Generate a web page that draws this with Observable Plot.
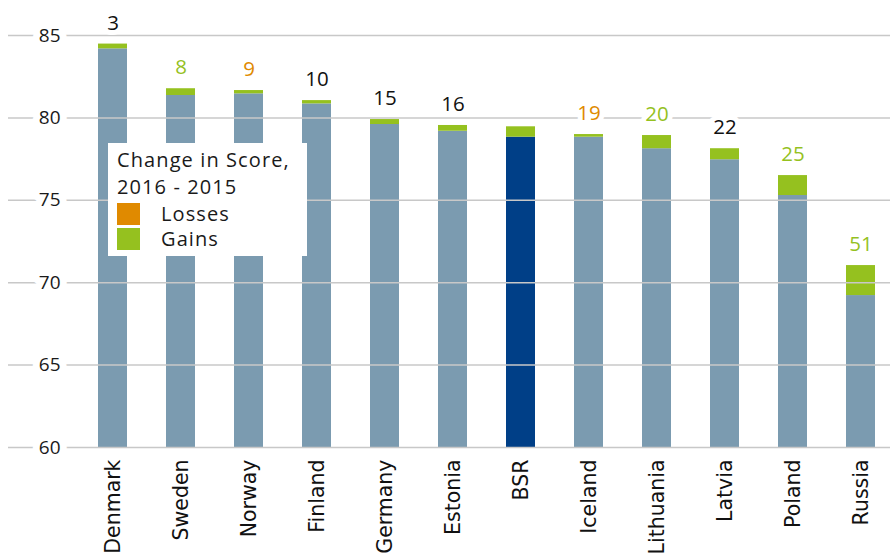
<!DOCTYPE html>
<html>
<head>
<meta charset="utf-8">
<script src="https://cdn.jsdelivr.net/npm/d3@7"></script>
<script src="https://cdn.jsdelivr.net/npm/@observablehq/plot@0.6"></script>
<style>
  html, body { margin: 0; padding: 0; background: #fff; }
  #wrap { position: relative; width: 890px; height: 555px; overflow: hidden; }
  #legend {
    position: absolute; left: 108px; top: 143px; width: 199px; height: 113px;
    background: #fff; font-family: "Open Sans", sans-serif; font-size: 20px; color: #1a1a1a;
    letter-spacing: 1.1px;
    box-sizing: border-box; padding: 3px 0 0 9px; line-height: 28px;
  }
  .row { display: flex; align-items: center; height: 25px; line-height: 25px; }
  .sw { width: 23px; height: 22px; margin-right: 21px; }
</style>
</head>
<body>
<div id="wrap">
  <div id="chart"></div>
  <div id="legend">
    <div>Change in Score,</div>
    <div style="margin-top:-1px">2016 - 2015</div>
    <div class="row"><div class="sw" style="background:#e08a00"></div>Losses</div>
    <div class="row"><div class="sw" style="background:#95c11f"></div>Gains</div>
  </div>
</div>
<script>
const countries = ["Denmark","Sweden","Norway","Finland","Germany","Estonia","BSR","Iceland","Lithuania","Latvia","Poland","Russia"];
const baseScore = [84.19, 81.36, 81.46, 80.85, 79.60, 79.19, 78.83, 78.83, 78.13, 77.46, 75.29, 69.22];
const totalScore = [84.48, 81.77, 81.66, 81.05, 79.90, 79.54, 79.46, 78.99, 78.93, 78.13, 76.50, 71.04];
const rankLabels = ["3","8","9","10","15","16","","19","20","22","25","51"];
const rankColors = ["#111111","#95c11f","#e08a00","#111111","#111111","#111111","#111111","#e08a00","#95c11f","#111111","#95c11f","#95c11f"];
const yTicks = [60, 65, 70, 75, 80, 85];

const data = countries.map((c, i) => ({
  country: c, base: baseScore[i], total: totalScore[i],
  label: rankLabels[i], color: rankColors[i]
}));

const chart = Plot.plot({
  width: 890,
  height: 555,
  marginTop: 35,
  marginBottom: 108,
  marginLeft: 8,
  marginRight: 0,
  x: { domain: countries, range: [83, 890], paddingInner: 0.575, paddingOuter: 0.205, label: null },
  y: { domain: [60, 85], label: null },
  style: { fontFamily: "Open Sans, sans-serif", background: "#fff" },
  marks: [
    Plot.barY(data, { x: "country", y1: 60, y2: "base", fill: d => d.country === "BSR" ? "#003f87" : "#7b9bb0" }),
    Plot.barY(data, { x: "country", y1: "base", y2: "total", fill: "#95c11f" }),
    Plot.ruleY(yTicks, { stroke: "#c8c8c8", strokeWidth: 1.5 }),
    Plot.text(yTicks, { y: d => d, text: d => String(d), frameAnchor: "left", dx: 52, textAnchor: "end",
      fontSize: 19, fill: "#1a1a1a", stroke: "white", strokeWidth: 14 }),
    Plot.text(data.filter(d => d.label), { x: "country", y: "total", text: "label", dy: -21,
      fontSize: 20.5, fill: "color", stroke: "white", strokeWidth: 10 }),
    Plot.axisX({ tickRotate: -90, tickSize: 0, tickPadding: 12, fontSize: 20.5,
      fontFamily: "DejaVu Sans, sans-serif", fill: "#111", label: null }),
    Plot.axisY({ ticks: [], label: null })
  ]
});
document.getElementById("chart").appendChild(chart);
</script>
</body>
</html>
